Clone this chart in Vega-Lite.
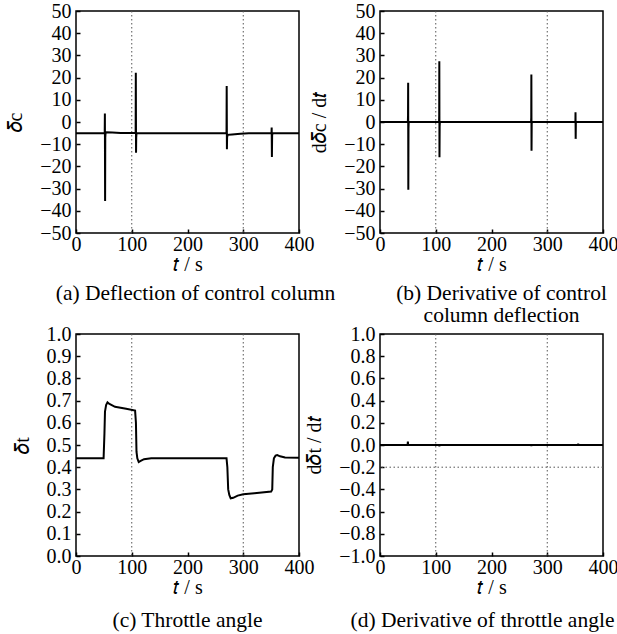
{
  "$schema": "https://vega.github.io/schema/vega-lite/v6.json",
  "padding": {"left": 4, "top": 0, "right": 5, "bottom": 5},
  "config": {
    "font": "Liberation Serif",
    "view": {"stroke": "black", "strokeWidth": 1.5},
    "axis": {
      "domain": false, "grid": false, "ticks": true, "tickSize": -4, "tickColor": "black", "tickWidth": 1.5,
      "labelFont": "Liberation Serif", "labelFontSize": 20, "labelColor": "black",
      "titleFont": "Liberation Serif", "titleFontSize": 20, "titleFontWeight": "normal", "titleColor": "black",
      "labelOverlap": false, "labelFlush": false, "labelBound": false
    },
    "axisY": {"titlePadding": 14, "labelPadding": 9},
    "axisX": {"titlePadding": 0, "labelPadding": 5},
    "title": {"font": "Liberation Serif", "fontSize": 21.5, "fontWeight": "normal", "color": "black", "orient": "bottom", "anchor": "middle", "frame": "group", "offset": 9, "lineHeight": 22}
  },
  "datasets": {
    "a": [
      {"t": 0, "v": -5.1}, {"t": 51.5, "v": -5.1}, {"t": 51.8, "v": 3.8}, {"t": 52.2, "v": -35.6}, {"t": 52.5, "v": -7},
      {"t": 53, "v": -5}, {"t": 55, "v": -4.6}, {"t": 65, "v": -4.7}, {"t": 80, "v": -4.9}, {"t": 107, "v": -5},
      {"t": 107.3, "v": 22.2}, {"t": 107.7, "v": -13.8}, {"t": 108, "v": -7}, {"t": 108.5, "v": -5.1}, {"t": 200, "v": -5.1},
      {"t": 270, "v": -5.1}, {"t": 270.3, "v": 16.2}, {"t": 270.7, "v": -12.3}, {"t": 271, "v": -7}, {"t": 272, "v": -5.8},
      {"t": 280, "v": -5.6}, {"t": 295, "v": -5.3}, {"t": 310, "v": -5.1}, {"t": 350.7, "v": -5.1}, {"t": 351, "v": -2.5},
      {"t": 351.4, "v": -15.8}, {"t": 351.8, "v": -6}, {"t": 352.5, "v": -5.1}, {"t": 400, "v": -5.1}
    ],
    "b": [
      {"t": 0, "v": 0}, {"t": 50, "v": 0}, {"t": 50.3, "v": 3}, {"t": 50.5, "v": 17.7}, {"t": 50.8, "v": -30.5},
      {"t": 51.1, "v": -3}, {"t": 51.5, "v": 0}, {"t": 106, "v": 0}, {"t": 106.2, "v": 3}, {"t": 106.4, "v": 27.4},
      {"t": 106.7, "v": -15.9}, {"t": 107, "v": -2}, {"t": 107.4, "v": 0}, {"t": 271, "v": 0}, {"t": 271.3, "v": 2},
      {"t": 271.5, "v": 21.4}, {"t": 271.8, "v": -12.9}, {"t": 272.1, "v": -1}, {"t": 272.5, "v": 0}, {"t": 350.5, "v": 0},
      {"t": 350.7, "v": 4.4}, {"t": 351, "v": -7.6}, {"t": 351.3, "v": 0}, {"t": 400, "v": 0}
    ],
    "c": [
      {"t": 0, "v": 0.44}, {"t": 49.5, "v": 0.44}, {"t": 51, "v": 0.55}, {"t": 52, "v": 0.65}, {"t": 54, "v": 0.68},
      {"t": 56.5, "v": 0.692}, {"t": 60, "v": 0.685}, {"t": 70, "v": 0.672}, {"t": 90, "v": 0.663}, {"t": 106, "v": 0.655},
      {"t": 107.5, "v": 0.6}, {"t": 108.5, "v": 0.47}, {"t": 110, "v": 0.44}, {"t": 112.5, "v": 0.423}, {"t": 116, "v": 0.428},
      {"t": 122, "v": 0.436}, {"t": 135, "v": 0.44}, {"t": 270, "v": 0.44}, {"t": 271.5, "v": 0.4}, {"t": 273, "v": 0.3},
      {"t": 275, "v": 0.275}, {"t": 277.5, "v": 0.26}, {"t": 282, "v": 0.262}, {"t": 290, "v": 0.272}, {"t": 300, "v": 0.278},
      {"t": 320, "v": 0.283}, {"t": 350, "v": 0.29}, {"t": 352, "v": 0.3}, {"t": 353, "v": 0.4}, {"t": 355, "v": 0.44},
      {"t": 358, "v": 0.452}, {"t": 361, "v": 0.455}, {"t": 366, "v": 0.449}, {"t": 375, "v": 0.444}, {"t": 400, "v": 0.443}
    ],
    "d": [
      {"t": 0, "v": 0}, {"t": 49.5, "v": 0}, {"t": 50, "v": 0.03}, {"t": 50.5, "v": 0}, {"t": 106, "v": 0},
      {"t": 106.5, "v": -0.012}, {"t": 107, "v": 0}, {"t": 271, "v": 0}, {"t": 271.5, "v": -0.01}, {"t": 272, "v": 0},
      {"t": 355, "v": 0}, {"t": 355.5, "v": 0.012}, {"t": 356, "v": 0}, {"t": 400, "v": 0}
    ],
    "gx": [{"t": 100}, {"t": 300}],
    "gy": [{"v": -0.2}]
  },
  "columns": 2,
  "spacing": {"row": 101, "column": 81},
  "bounds": "flush",
  "concat": [
    {
      "width": 223, "height": 222,
      "title": {"text": "(a) Deflection of control column", "dx": 8},
      "layer": [
        {"data": {"name": "gx"}, "mark": {"type": "rule", "color": "#555", "strokeDash": [1.5, 2.5], "strokeWidth": 1},
         "encoding": {"x": {"field": "t", "type": "quantitative", "title": "𝑡 / s"}}},
        {"data": {"name": "a"}, "mark": {"type": "line", "color": "black", "strokeWidth": 2},
         "encoding": {
           "x": {"field": "t", "type": "quantitative", "title": "𝑡 / s", "scale": {"domain": [0, 400], "nice": false}, "axis": {"values": [0, 100, 200, 300, 400]}},
           "y": {"field": "v", "type": "quantitative", "title": "𝛿c", "scale": {"domain": [-50, 50], "nice": false}, "axis": {"values": [-50, -40, -30, -20, -10, 0, 10, 20, 30, 40, 50], "labelOverlap": false}}
         }}
      ]
    },
    {
      "width": 223, "height": 222,
      "title": {"text": ["(b) Derivative of control", "column deflection"], "dx": 10},
      "layer": [
        {"data": {"name": "gx"}, "mark": {"type": "rule", "color": "#555", "strokeDash": [1.5, 2.5], "strokeWidth": 1},
         "encoding": {"x": {"field": "t", "type": "quantitative", "title": "𝑡 / s"}}},
        {"data": {"name": "b"}, "mark": {"type": "line", "color": "black", "strokeWidth": 2},
         "encoding": {
           "x": {"field": "t", "type": "quantitative", "title": "𝑡 / s", "scale": {"domain": [0, 400], "nice": false}, "axis": {"values": [0, 100, 200, 300, 400]}},
           "y": {"field": "v", "type": "quantitative", "title": "d𝛿c / d𝑡", "scale": {"domain": [-50, 50], "nice": false}, "axis": {"values": [-50, -40, -30, -20, -10, 0, 10, 20, 30, 40, 50], "labelOverlap": false}}
         }}
      ]
    },
    {
      "width": 223, "height": 222,
      "title": {"text": "(c) Throttle angle", "dx": 0, "offset": 13},
      "layer": [
        {"data": {"name": "gx"}, "mark": {"type": "rule", "color": "#555", "strokeDash": [1.5, 2.5], "strokeWidth": 1},
         "encoding": {"x": {"field": "t", "type": "quantitative", "title": "𝑡 / s"}}},
        {"data": {"name": "c"}, "mark": {"type": "line", "color": "black", "strokeWidth": 2},
         "encoding": {
           "x": {"field": "t", "type": "quantitative", "title": "𝑡 / s", "scale": {"domain": [0, 400], "nice": false}, "axis": {"values": [0, 100, 200, 300, 400]}},
           "y": {"field": "v", "type": "quantitative", "title": "𝛿t", "scale": {"domain": [0, 1], "nice": false}, "axis": {"values": [0, 0.1, 0.2, 0.3, 0.4, 0.5, 0.6, 0.7, 0.8, 0.9, 1.0], "format": ".1f", "labelOverlap": false}}
         }}
      ]
    },
    {
      "width": 223, "height": 222,
      "title": {"text": "(d) Derivative of throttle angle", "dx": -9, "offset": 13},
      "layer": [
        {"data": {"name": "gx"}, "mark": {"type": "rule", "color": "#555", "strokeDash": [1.5, 2.5], "strokeWidth": 1},
         "encoding": {"x": {"field": "t", "type": "quantitative", "title": "𝑡 / s"}}},
        {"data": {"name": "gy"}, "mark": {"type": "rule", "color": "#555", "strokeDash": [1.5, 2.5], "strokeWidth": 1},
         "encoding": {"y": {"field": "v", "type": "quantitative", "title": "d𝛿t / d𝑡", "scale": {"domain": [-1, 1], "nice": false}, "axis": {"values": [-1, -0.8, -0.6, -0.4, -0.2, 0, 0.2, 0.4, 0.6, 0.8, 1.0], "format": ".1f", "labelOverlap": false}}}},
        {"data": {"name": "d"}, "mark": {"type": "line", "color": "black", "strokeWidth": 2},
         "encoding": {
           "x": {"field": "t", "type": "quantitative", "title": "𝑡 / s", "scale": {"domain": [0, 400], "nice": false}, "axis": {"values": [0, 100, 200, 300, 400]}},
           "y": {"field": "v", "type": "quantitative", "title": "d𝛿t / d𝑡", "scale": {"domain": [-1, 1], "nice": false}, "axis": {"values": [-1, -0.8, -0.6, -0.4, -0.2, 0, 0.2, 0.4, 0.6, 0.8, 1.0], "format": ".1f", "labelOverlap": false}}
         }}
      ]
    }
  ]
}
